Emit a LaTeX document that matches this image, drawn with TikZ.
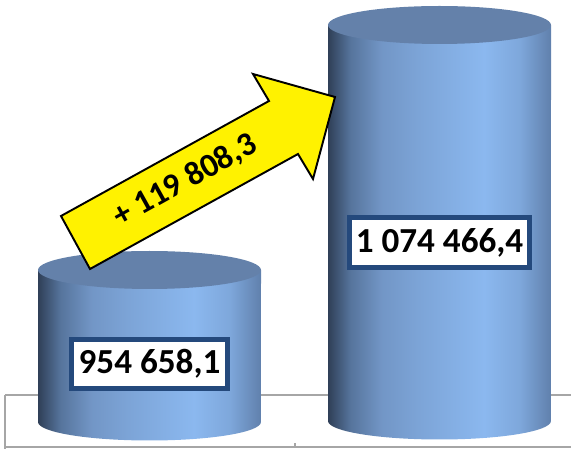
\documentclass[tikz,border=0pt]{standalone}
\usepackage{fontspec}
\setmainfont{Carlito}
\definecolor{cyldark}{HTML}{2F3F57}
\definecolor{cylmid}{HTML}{56749C}
\definecolor{cylsoft}{HTML}{7296C6}
\definecolor{cyllight}{HTML}{8BB8EF}
\definecolor{cylright}{HTML}{6080AC}
\definecolor{cyltop}{HTML}{6481AA}
\definecolor{boxblue}{HTML}{24497C}
\definecolor{axisgray}{HTML}{A6A6A6}
\pgfdeclarehorizontalshading{cylside}{100bp}{color(0bp)=(cyldark); color(25bp)=(cyldark);
  color(30bp)=(cylmid); color(37bp)=(cylsoft); color(45bp)=(cylsoft!60!cyllight);
  color(60bp)=(cyllight); color(68bp)=(cyllight!70!cylright); color(75bp)=(cylright);
  color(100bp)=(cylright)}
% one bar: left x, bottom centre y, top centre y
\newcommand{\barcyl}[3]{%
  \shade[shading=cylside] (#1,#3) -- (#1,#2)
    arc[start angle=180, end angle=360, x radius=2.23cm, y radius=0.37cm] -- (#1+223,#3) -- cycle;
  \fill[cyltop] (#1+111.5,#3) ellipse[x radius=2.23cm, y radius=0.38cm];
}

\begin{document}
\begin{tikzpicture}[x=0.02cm, y=0.02cm,
  valbox/.style={draw=boxblue, line width=2.6pt, fill=white, inner sep=0pt,
    font=\bfseries\fontsize{20}{22}\selectfont},
  gainarrow/.style={fill=yellow, draw=black, line width=1.1pt, line join=miter}
  ]
  \useasboundingbox (0,0) rectangle (571,449);
  % axis frame
  \draw[axisgray, line width=0.6pt] (5,54) -- (571,54);
  \draw[axisgray, line width=0.6pt] (5,54) -- (5,0);
  \draw[axisgray, line width=0.6pt] (5,2) -- (571,2);
  \draw[axisgray, line width=0.6pt] (295,2) -- (295,6);

  \barcyl{38}{27}{179}
  \barcyl{328}{28}{424}

  \node[valbox, minimum width=3.12cm, minimum height=0.98cm] (before) at (149.5,85) {954 658,1};
  \node[valbox, minimum width=3.6cm, minimum height=1.0cm] (after) at (439.5,206.5) {1 074 466,4};

  \filldraw[gainarrow] (90,180) -- (61,233) -- (269,348) -- (253,375) -- (335,352)
    -- (313,270) -- (298,295) -- cycle;
  \node[rotate=29, font=\bfseries\fontsize{19}{21}\selectfont] (gain) at (185,268) {+ 119 808,3};
\end{tikzpicture}
\end{document}
